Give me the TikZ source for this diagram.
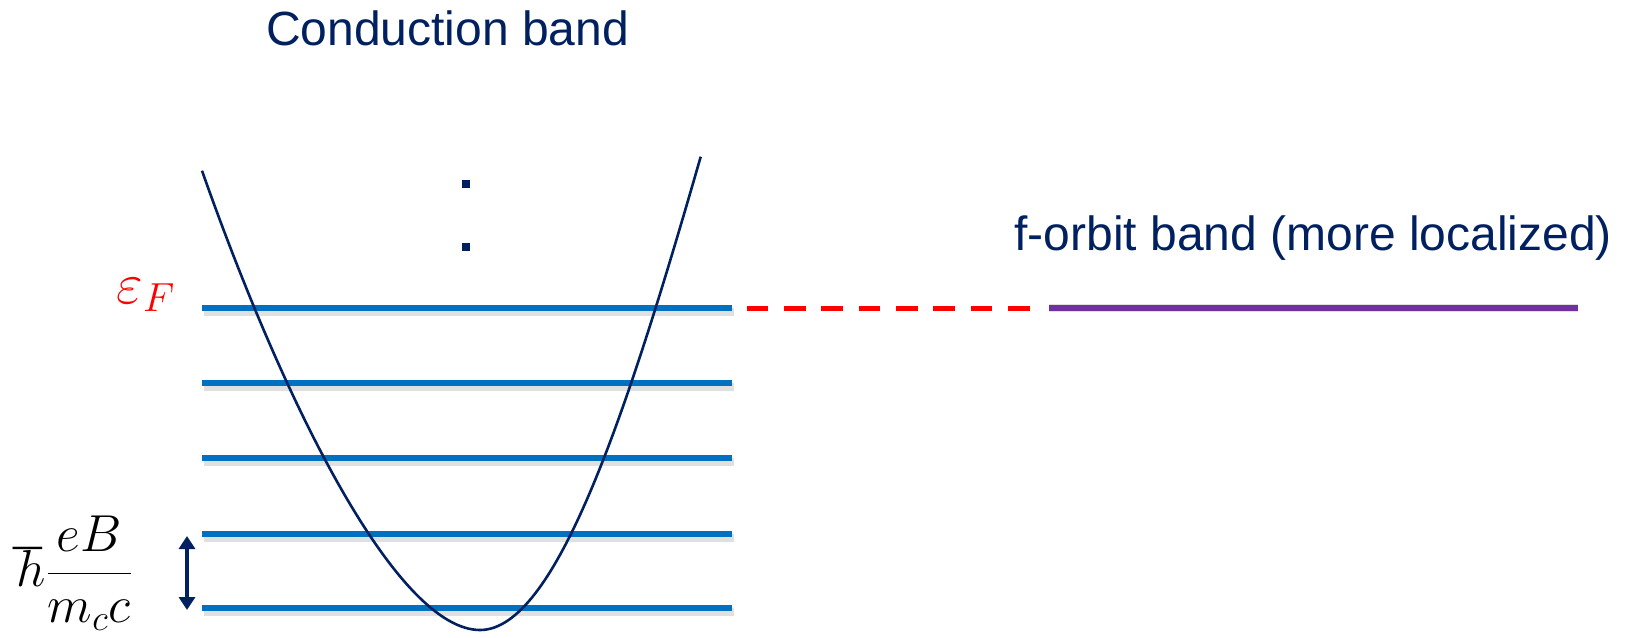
\RequirePackage{fix-cm}
\documentclass[tikz,border=0pt]{standalone}
\usepackage{fontspec}
\setmainfont{Liberation Sans}
\usetikzlibrary{arrows.meta}
\definecolor{navy}{HTML}{002060}
\definecolor{lvlblue}{HTML}{0070C0}
\definecolor{fpurple}{HTML}{7030A0}
\tikzset{
	level/.style={lvlblue, line width=3pt},
	lvlshadow/.style={black, opacity=0.12, line width=4pt, shift={(1.5,4)}},
	bandcurve/.style={navy, line width=1.3pt},
	bandtext/.style={text=navy, inner sep=0pt, font=\fontsize{24}{28}\selectfont},
	gaptip/.tip={Triangle[length=6.5pt,width=8pt]},
}

\begin{document}
\begin{tikzpicture}[x=0.5pt,y=-0.5pt]
		\useasboundingbox (0,0) rectangle (1626,637);
		\node[bandtext, anchor=base] (cond) at (447.5,45) {Conduction band};
		\node[bandtext, anchor=base west] (forb) at (1014,250) {f-orbit band (more localized)};
		\fill[navy] (462,180) rectangle (470,188);
		\fill[navy] (462,243) rectangle (470,251);
		\foreach \y [count=\i] in {308,383,458,534,608} {
			\draw[lvlshadow] (202,\y) -- (732,\y);
			\draw[level] (202,\y) coordinate (lw\i) -- (732,\y) coordinate (le\i);
		}
		\draw[bandcurve] (202,170.7) .. controls (290,420) and (400,630) .. (480,630) .. controls (555,630) and (625,420) .. (700.7,156.7);
		\coordinate (ef1) at (746.7,308);
		\coordinate (ef2) at (1029.5,308);
		\coordinate (fb1) at (1049,308);
		\coordinate (fb2) at (1578,308);
		\draw[red, line width=2.5pt, dash pattern=on 10.85pt off 7.8pt] (ef1) -- (ef2);
		\draw[lvlshadow] (fb1) -- (fb2);
		\draw[fpurple, line width=3pt] (fb1) -- (fb2);
		\node[text=red, inner sep=0pt, font=\fontsize{29}{34}\selectfont] (epsf) at (146,295) {$\varepsilon_F$};
		\coordinate (ar1) at (187,536);
		\coordinate (ar2) at (187,610);
		\draw[navy, line width=2pt, {gaptip}-{gaptip}] (ar1) -- (ar2);
		\node[anchor=west, inner sep=0pt, font=\fontsize{26}{30}\selectfont] (gap) at (13,573) {$\hbar\displaystyle\frac{eB}{m_c c}$};
		\end{tikzpicture}
\end{document}
